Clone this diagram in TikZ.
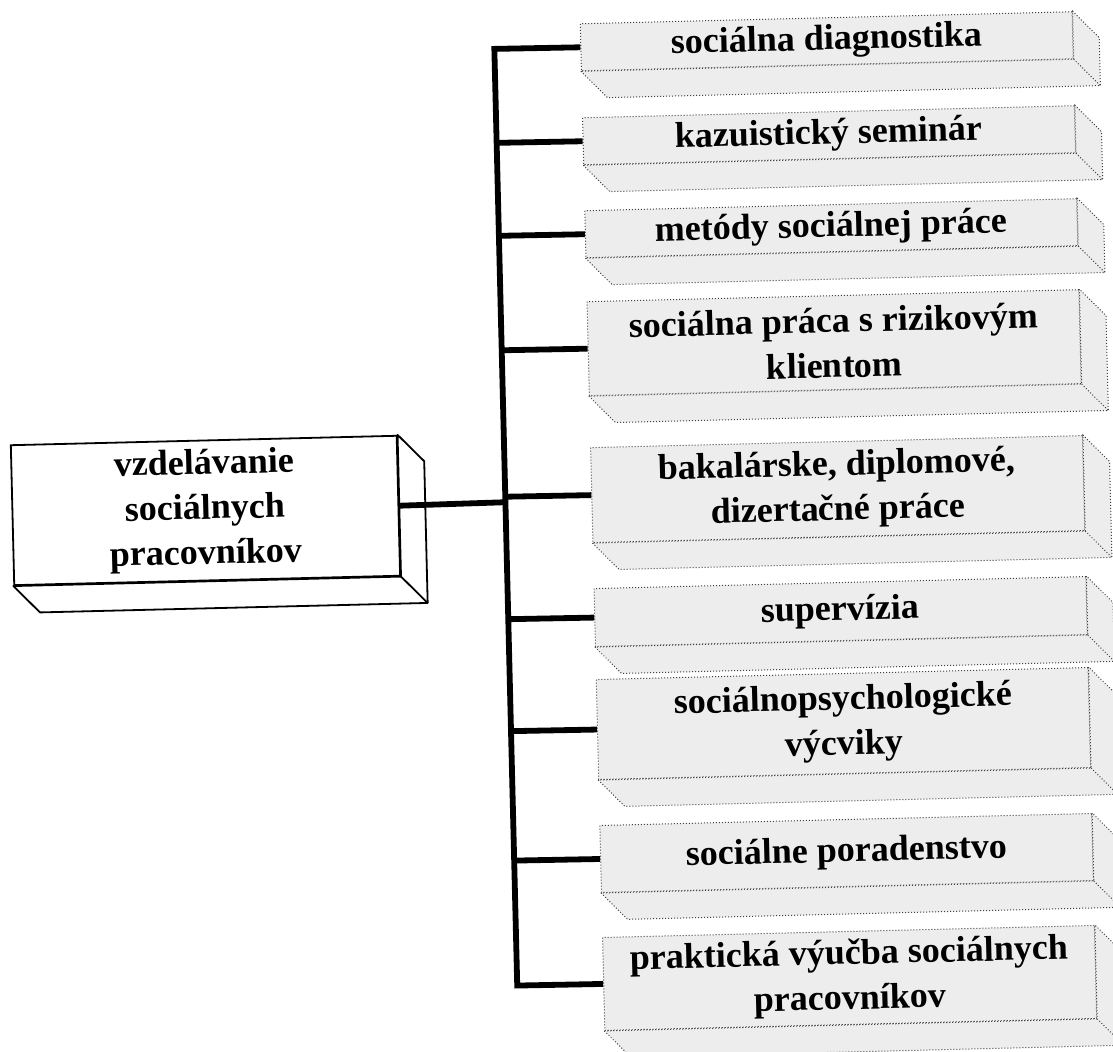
\documentclass[tikz,border=0pt]{standalone}
\usepackage{fontspec}
\setmainfont{Liberation Serif}
\usepackage{tikz}

\newcommand{\slab}[2]{%
  \filldraw[#2] (#1.south west) -- ([xshift=13pt,yshift=-13.5pt]#1.south west)
    -- ([xshift=13pt,yshift=-13.5pt]#1.south east)
    -- ([xshift=13pt,yshift=-13.5pt]#1.north east) -- (#1.north east)
    -- (#1.south east) -- cycle;
  \draw[#2] (#1.south east) -- ([xshift=13pt,yshift=-13.5pt]#1.south east);}

\begin{document}
\begin{tikzpicture}[x=0.5pt,y=-0.5pt,
  font=\fontsize{18}{22.5}\selectfont\bfseries,
  mainbox/.style={draw,line width=0.9pt,fill=white,minimum width=193pt,
    minimum height=70pt,inner sep=0pt,align=center,anchor=north west},
  topicbox/.style={draw=black!75,line width=0.5pt,densely dotted,fill=black!7,
    minimum width=246pt,inner sep=0pt,align=center,anchor=north west},
  mainslab/.style={draw,line width=0.9pt,fill=white,line join=round},
  topicslab/.style={draw=black!75,line width=0.5pt,densely dotted,fill=black!7},
  bar/.style={line width=2.9pt}]
  \useasboundingbox (0,0) rectangle (1113,1051);
  \begin{scope}[rotate around={1.4:(556,525)},transform shape]
  \node[mainbox] (root) at (12,431) {vzdelávanie\\ sociálnych\\ pracovníkov};
  \node[topicbox,minimum height=23.5pt] (diag) at (592,24) {sociálna diagnostika};
  \node[topicbox,minimum height=23.5pt] (kaz) at (592,118) {kazuistický seminár};
  \node[topicbox,minimum height=23.5pt] (met) at (592,211) {metódy sociálnej práce};
  \node[topicbox,minimum height=47pt] (riz) at (592,302) {sociálna práca s rizikovým\\ klientom};
  \node[topicbox,minimum height=47.5pt] (prace) at (592,448) {bakalárske, diplomové,\\ dizertačné práce};
  \node[topicbox,minimum height=29pt] (sup) at (592,589) {supervízia};
  \node[topicbox,minimum height=50pt] (vyc) at (592,680) {sociálnopsychologické\\ výcviky};
  \node[topicbox,minimum height=33.5pt] (por) at (592,826) {sociálne poradenstvo};
  \node[topicbox,minimum height=46.5pt] (prax) at (592,938) {praktická výučba sociálnych\\ pracovníkov};

  \slab{root}{mainslab}
  \slab{diag}{topicslab}
  \slab{kaz}{topicslab}
  \slab{met}{topicslab}
  \slab{riz}{topicslab}
  \slab{prace}{topicslab}
  \slab{sup}{topicslab}
  \slab{vyc}{topicslab}
  \slab{por}{topicslab}
  \slab{prax}{topicslab}

  \coordinate (jroot) at (506,501);
  \coordinate (jdiag) at (506,47.5);
  \coordinate (jkaz) at (506,141.5);
  \coordinate (jmet) at (506,234.5);
  \coordinate (jriz) at (506,349);
  \coordinate (jprace) at (506,495.5);
  \coordinate (jsup) at (506,618);
  \coordinate (jvyc) at (506,730);
  \coordinate (jpor) at (506,859.5);
  \coordinate (jprax) at (506,984.5);
  \draw[bar] (diag.west) -- (jdiag) -- (jprax) -- (prax.west);
  \draw[bar] (root.east) -- (jroot);
  \draw[bar] (jkaz) -- (kaz.west);
  \draw[bar] (jmet) -- (met.west);
  \draw[bar] (jriz) -- (riz.west);
  \draw[bar] (jprace) -- (prace.west);
  \draw[bar] (jsup) -- (sup.west);
  \draw[bar] (jvyc) -- (vyc.west);
  \draw[bar] (jpor) -- (por.west);
  \end{scope}
\end{tikzpicture}
\end{document}
